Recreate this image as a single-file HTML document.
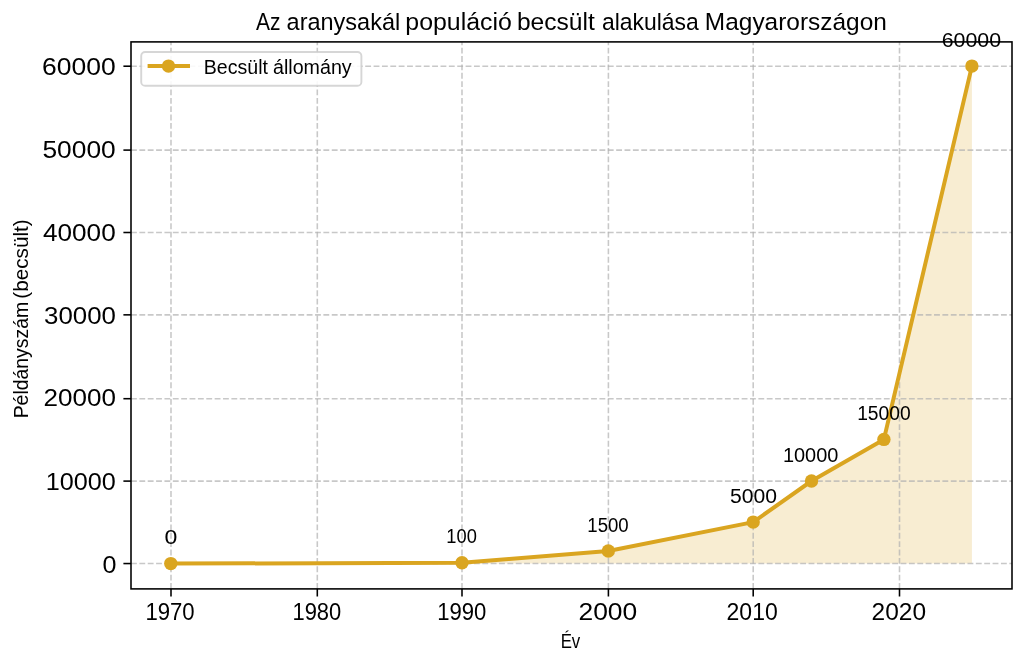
<!DOCTYPE html>
<html><head><meta charset="utf-8"><title>Az aranysakál populáció</title>
<style>html,body{margin:0;padding:0;background:#fff;}body{width:1025px;height:665px;overflow:hidden;}svg{display:block;}text{font-family:"Liberation Sans",sans-serif;fill:#000;}</style></head><body>
<svg width="1025" height="665" viewBox="0 0 1025 665">
<defs><filter id="soft" x="0" y="0" width="1025" height="665" filterUnits="userSpaceOnUse" color-interpolation-filters="sRGB"><feGaussianBlur stdDeviation="0.45"/></filter></defs>
<g filter="url(#soft)">
<rect x="-5" y="-5" width="1035" height="675" fill="#ffffff"/>
<polygon points="170.80,563.60 462.00,562.80 608.30,551.00 753.20,522.10 811.50,481.00 883.90,439.40 971.90,66.10 971.90,563.60 170.80,563.60" fill="#DAA520" fill-opacity="0.2"/>
<g stroke="#b0b0b0" stroke-opacity="0.7" stroke-width="1.57" stroke-dasharray="5.84 2.525" fill="none">
<line x1="171.00" y1="588.9" x2="171.00" y2="41.9"/>
<line x1="317.30" y1="588.9" x2="317.30" y2="41.9"/>
<line x1="462.00" y1="588.9" x2="462.00" y2="41.9"/>
<line x1="608.40" y1="588.9" x2="608.40" y2="41.9"/>
<line x1="753.20" y1="588.9" x2="753.20" y2="41.9"/>
<line x1="899.50" y1="588.9" x2="899.50" y2="41.9"/>
<line x1="131.0" y1="563.55" x2="1012.0" y2="563.55"/>
<line x1="131.0" y1="481.10" x2="1012.0" y2="481.10"/>
<line x1="131.0" y1="398.70" x2="1012.0" y2="398.70"/>
<line x1="131.0" y1="314.85" x2="1012.0" y2="314.85"/>
<line x1="131.0" y1="232.50" x2="1012.0" y2="232.50"/>
<line x1="131.0" y1="150.10" x2="1012.0" y2="150.10"/>
<line x1="131.0" y1="66.20" x2="1012.0" y2="66.20"/>
</g>
<polyline points="170.80,563.60 462.00,562.80 608.30,551.00 753.20,522.10 811.50,481.00 883.90,439.40 971.90,66.10" fill="none" stroke="#DAA520" stroke-width="4.0" stroke-linejoin="round" stroke-linecap="butt"/>
<circle cx="170.80" cy="563.60" r="6.7" fill="#DAA520"/>
<circle cx="462.00" cy="562.80" r="6.7" fill="#DAA520"/>
<circle cx="608.30" cy="551.00" r="6.7" fill="#DAA520"/>
<circle cx="753.20" cy="522.10" r="6.7" fill="#DAA520"/>
<circle cx="811.50" cy="481.00" r="6.7" fill="#DAA520"/>
<circle cx="883.90" cy="439.40" r="6.7" fill="#DAA520"/>
<circle cx="971.90" cy="66.10" r="6.7" fill="#DAA520"/>
<g stroke="#000" stroke-width="1.57">
<line x1="171.00" y1="588.9" x2="171.00" y2="596.50"/>
<line x1="317.30" y1="588.9" x2="317.30" y2="596.50"/>
<line x1="462.00" y1="588.9" x2="462.00" y2="596.50"/>
<line x1="608.40" y1="588.9" x2="608.40" y2="596.50"/>
<line x1="753.20" y1="588.9" x2="753.20" y2="596.50"/>
<line x1="899.50" y1="588.9" x2="899.50" y2="596.50"/>
<line x1="131.0" y1="563.55" x2="123.40" y2="563.55"/>
<line x1="131.0" y1="481.10" x2="123.40" y2="481.10"/>
<line x1="131.0" y1="398.70" x2="123.40" y2="398.70"/>
<line x1="131.0" y1="314.85" x2="123.40" y2="314.85"/>
<line x1="131.0" y1="232.50" x2="123.40" y2="232.50"/>
<line x1="131.0" y1="150.10" x2="123.40" y2="150.10"/>
<line x1="131.0" y1="66.20" x2="123.40" y2="66.20"/>
</g>
<rect x="131.0" y="41.9" width="881.0" height="547.0" fill="none" stroke="#000" stroke-width="1.57" stroke-linejoin="miter"/>
<rect x="141.2" y="52.0" width="220.2" height="33.8" rx="3.9" ry="3.9" fill="#fff" fill-opacity="0.88" stroke="#cccccc" stroke-opacity="0.8" stroke-width="1.9"/>
<line x1="147.6" y1="66.1" x2="190.0" y2="66.1" stroke="#DAA520" stroke-width="4.0"/>
<circle cx="168.5" cy="66.1" r="6.7" fill="#DAA520"/>
<text transform="translate(256.10,29.60) scale(0.8726,1.0000)" font-size="24.1">Az</text>
<text transform="translate(286.56,29.60) scale(0.9756,1.0000)" font-size="24.1">aranysakál</text>
<text transform="translate(405.31,29.60) scale(1.0331,1.0000)" font-size="24.1">populáció</text>
<text transform="translate(516.93,29.60) scale(1.0191,1.0000)" font-size="24.1">becsült</text>
<text transform="translate(601.88,29.60) scale(0.9519,1.0000)" font-size="24.1">alakulása</text>
<text transform="translate(704.84,29.60) scale(1.0146,1.0000)" font-size="24.1">Magyarországon</text>
<text transform="translate(42.08,75.15) scale(1.0995,1.0000)" font-size="24.1">60000</text>
<text transform="translate(42.45,157.95) scale(1.0939,1.0000)" font-size="24.1">50000</text>
<text transform="translate(42.98,240.55) scale(1.0858,1.0000)" font-size="24.1">40000</text>
<text transform="translate(44.02,324.25) scale(1.0730,1.0000)" font-size="24.1">30000</text>
<text transform="translate(43.50,406.15) scale(1.0810,1.0000)" font-size="24.1">20000</text>
<text transform="translate(45.73,490.25) scale(1.0472,1.0000)" font-size="24.1">10000</text>
<text transform="translate(102.55,572.75) scale(1.0416,1.0000)" font-size="24.1">0</text>
<text transform="translate(145.45,619.65) scale(0.9186,1.0000)" font-size="24.1">1970</text>
<text transform="translate(292.46,619.65) scale(0.9108,1.0000)" font-size="24.1">1980</text>
<text transform="translate(437.25,619.65) scale(0.9167,1.0000)" font-size="24.1">1990</text>
<text transform="translate(578.48,619.65) scale(1.0963,1.0000)" font-size="24.1">2000</text>
<text transform="translate(726.55,619.65) scale(0.9547,1.0000)" font-size="24.1">2010</text>
<text transform="translate(871.57,619.65) scale(1.0167,1.0000)" font-size="24.1">2020</text>
<text transform="translate(560.65,647.90) scale(0.8723,1.0000)" font-size="19.3">Év</text>
<text transform="translate(28.20,418.35) rotate(-90) scale(1.0062,1.0000)" font-size="19.3">Példányszám</text>
<text transform="translate(28.20,298.74) rotate(-90) scale(1.0735,1.0000)" font-size="19.3">(becsült)</text>
<text transform="translate(203.84,73.70) scale(1.0131,1.0000)" font-size="19.3">Becsült</text>
<text transform="translate(273.01,73.70) scale(1.0188,1.0000)" font-size="19.3">állomány</text>
<text transform="translate(164.61,544.00) scale(1.1949,1.0000)" font-size="19.3">0</text>
<text transform="translate(446.32,542.70) scale(0.9485,1.0000)" font-size="19.3">100</text>
<text transform="translate(587.30,531.90) scale(0.9636,1.0000)" font-size="19.3">1500</text>
<text transform="translate(730.05,503.40) scale(1.0949,1.0000)" font-size="19.3">5000</text>
<text transform="translate(782.90,461.70) scale(1.0345,1.0000)" font-size="19.3">10000</text>
<text transform="translate(857.15,419.50) scale(0.9977,1.0000)" font-size="19.3">15000</text>
<text transform="translate(941.73,46.90) scale(1.1056,1.0000)" font-size="19.3">60000</text>
</g>
</svg></body></html>
